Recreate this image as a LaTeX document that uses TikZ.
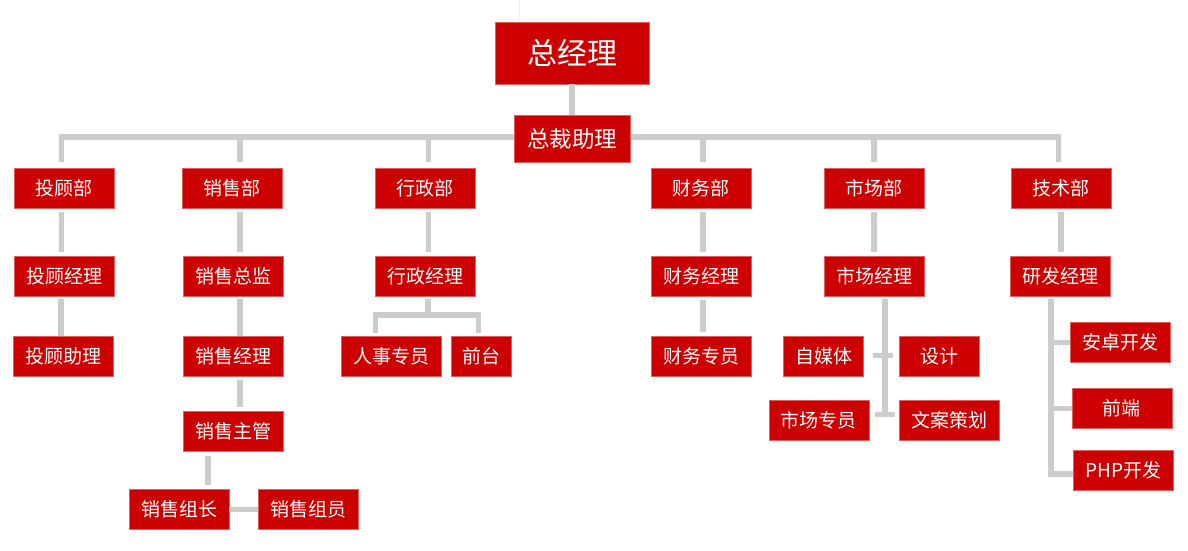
\documentclass[tikz,border=0pt]{standalone}
\usepackage{fontspec}
\newfontfamily\cjk{Noto Sans CJK SC}
\definecolor{boxred}{HTML}{CC0000}
\definecolor{boxedge}{HTML}{E06060}
\definecolor{linegray}{HTML}{CCCCCC}
\definecolor{faint}{HTML}{F0F0F0}
\tikzset{
  box/.style={rectangle, fill=boxred, draw=boxedge, line width=0.5pt, text=white,
    font=\cjk\fontsize{19}{19}\selectfont, inner sep=0pt,
    minimum width=100pt, minimum height=40pt},
  conn/.style={draw=linegray, line width=5.5pt, line join=miter},
  gap/.style={shorten <=4pt, shorten >=4pt}
}
\begin{document}
\begin{tikzpicture}[x=1pt,y=-1pt]
\useasboundingbox (0,0) rectangle (1188,550);
\draw[faint, line width=1pt] (519,0) -- (519,20);
% top
\node[box, minimum width=154pt, minimum height=62pt, font=\cjk\fontsize{30}{30}\selectfont] (zjl) at (572,53) {总经理};
\coordinate (bar) at (572,137);
% departments
\node[box, minimum width=100pt] (tgb) at (64,188) {投顾部};
\node[box] (xsb) at (232,188) {销售部};
\node[box] (xzb) at (425,188) {行政部};
\node[box] (cwb) at (701,188) {财务部};
\node[box] (scb) at (874,188) {市场部};
\node[box] (jsb) at (1061,188) {技术部};
\draw[conn] ([xshift=-2.5pt,yshift=6pt]tgb.north) |- (bar) -| ([xshift=-2.5pt,yshift=6pt]jsb.north);
\foreach \d/\s in {xsb/8,xzb/3.5,cwb/2,scb/0} {
  \draw[conn] ([xshift=\s pt]\d.north |- bar) -- ([xshift=\s pt,yshift=6pt]\d.north);
}
\node[box, minimum width=116pt, minimum height=47pt, font=\cjk\fontsize{22.5}{22.5}\selectfont] (zczl) at (572,138.5) {总裁助理};
\draw[conn] (zjl.south) -- (zczl.north);
% row 2
\node[box] (tgjl) at (64,276) {投顾经理};
\node[box] (xszj) at (233,276) {销售总监};
\node[box] (xzjl) at (425,276) {行政经理};
\node[box] (cwjl) at (701,276) {财务经理};
\node[box] (scjl) at (874,276) {市场经理};
\node[box] (yfjl) at (1060.5,276) {研发经理};
\foreach \a/\b/\s in {tgb/tgjl/-2.5,xsb/xszj/8,xzb/xzjl/3.5,cwb/cwjl/2,scb/scjl/0,jsb/yfjl/0} {
  \draw[conn, gap] ([xshift=\s pt]\a.south) -- ([xshift=\s pt]\a.south |- \b.north);
}
% 投顾
\node[box] (tgzl) at (63,356) {投顾助理};
\draw[conn, shorten <=3pt] ([xshift=-3pt]tgjl.south) -- ([xshift=-3pt]tgjl.south |- tgzl.north);
% 销售
\node[box] (xsjl) at (233,356) {销售经理};
\node[box] (xszg) at (233,431.7) {销售主管};
\node[box] (xszz) at (179,509.3) {销售组长};
\node[box] (xszy) at (308,509.3) {销售组员};
\draw[conn, shorten <=3pt] ([xshift=7pt]xszj.south) -- ([xshift=7pt]xszj.south |- xsjl.north);
\draw[conn, gap] ([xshift=7pt]xsjl.south) -- ([xshift=7pt]xsjl.south |- xszg.north);
\draw[conn, gap] ([xshift=-25pt]xszg.south) -- ([xshift=-25pt]xszg.south |- xszz.north);
\draw[conn] (xszz) -- (xszy);
% 行政
\node[box] (rszy) at (391.7,356) {人事专员};
\node[box, minimum width=60pt] (qt) at (481.7,356) {前台};
\coordinate (xzbr) at (428,315);
\draw[conn] ([xshift=3pt,yshift=-3pt]xzjl.south) -- ([xshift=3pt]xzjl.south |- xzbr);
\draw[conn] ([xshift=-16pt,yshift=3pt]rszy.north) |- (xzbr) -| ([xshift=-3pt,yshift=3pt]qt.north);
% 财务
\node[box] (cwzy) at (701,356) {财务专员};
\draw[conn, gap] ([xshift=2pt]cwjl.south) -- ([xshift=2pt]cwjl.south |- cwzy.north);
% 市场
\node[box, minimum width=80pt] (zmt) at (823.7,356.3) {自媒体};
\node[box, minimum width=80pt] (sj) at (939.7,356.3) {设计};
\node[box] (sczy) at (818.8,420.3) {市场专员};
\node[box] (wacp) at (949.7,420.3) {文案策划};
\path ([xshift=11pt,yshift=-3pt]scjl.south) coordinate (sct);
\path ([xshift=6pt,yshift=6pt]sczy.east) coordinate (scbot);
\draw[conn] (sct) -- (sct |- scbot);
\draw[conn] ([xshift=9pt,yshift=1pt]zmt.east) -- ([xshift=-6pt,yshift=1pt]sj.west);
\draw[conn] (scbot) -- ([xshift=-4pt,yshift=6pt]wacp.west);
% 研发
\node[box] (azkf) at (1120.5,342.3) {安卓开发};
\node[box] (qd) at (1121.8,408.3) {前端};
\node[box] (php) at (1123.7,470) {PHP开发};
\path ([xshift=-9.5pt,yshift=-3pt]yfjl.south) coordinate (yft);
\draw[conn] (yft) |- ([yshift=-4pt]php.west);
\draw[conn] (yft |- azkf.west) -- (azkf.west);
\draw[conn] (yft |- qd.west) -- (qd.west);
\end{tikzpicture}
\end{document}
